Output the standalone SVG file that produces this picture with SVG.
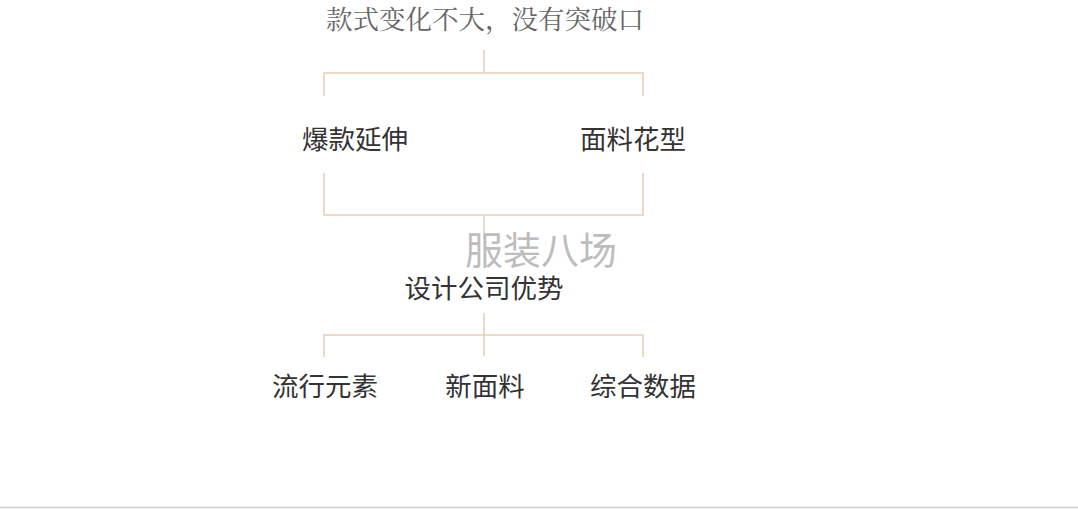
<svg xmlns="http://www.w3.org/2000/svg" width="1078" height="509" viewBox="0 0 1078 509">
<style>
.lbl{font-family:"Noto Sans CJK SC","Noto Sans",sans-serif;font-size:26.5px;fill:#333;text-anchor:middle}
.ttl{font-family:"Noto Serif CJK SC","Noto Sans CJK SC",serif;font-size:26.5px;fill:#666;text-anchor:middle}
.wm{font-family:"Noto Sans CJK SC",sans-serif;font-size:38px;fill:#bdbdbd;text-anchor:middle}
.ln{stroke:#ecceb3;stroke-width:1.6;fill:none}
</style>
<rect width="1078" height="509" fill="#fff"/>
<g id="connectors">
<path class="ln" d="M484 50V73M324 96V73H643V96"/>
<path class="ln" d="M324 173V215H643V173M484 215V240"/>
<path class="ln" d="M484 313V356M324 357V335H643V357"/>
</g>
<g id="title"><text class="ttl" x="485" y="29">款式变化不大，没有突破口</text></g>
<g id="n1"><text class="lbl" x="355" y="149">爆款延伸</text></g>
<g id="n2"><text class="lbl" x="633" y="149">面料花型</text></g>
<g id="n3"><text class="lbl" x="484" y="298">设计公司优势</text></g>
<g id="n4"><text class="lbl" x="325" y="396">流行元素</text></g>
<g id="n5"><text class="lbl" x="485" y="396">新面料</text></g>
<g id="n6"><text class="lbl" x="643" y="396">综合数据</text></g>
<text class="wm" x="541" y="264">服装八场</text>
<line x1="0" y1="507.5" x2="1078" y2="507.5" stroke="#cfcfcf" stroke-width="1.5"/>
</svg>
